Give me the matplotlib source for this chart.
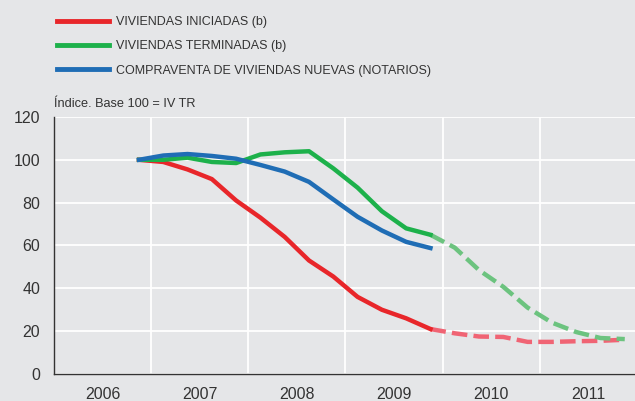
import numpy as np
import matplotlib.pyplot as plt
from matplotlib.lines import Line2D

plt.rcParams['font.family'] = ['Liberation Sans', 'DejaVu Sans']

years = ['2006', '2007', '2008', '2009', '2010', '2011']

# quarterly index values, first point = IV TR 2006
iniciadas = [100, 99, 95.5, 91, 81, 73, 64, 53, 45.5, 36, 30, 26, 21]
iniciadas_prev = [21, 19, 17.5, 17.3, 15, 15, 15.3, 15.5, 16]
terminadas = [100, 100, 101, 99, 98.5, 102.5, 103.5, 104, 96, 87, 76, 68, 65]
terminadas_prev = [65, 59, 48.5, 40.7, 31, 24, 19.6, 16.8, 16.3]
compraventa = [100, 102, 102.7, 101.8, 100.5, 97.6, 94.5, 89.7, 81.5, 73.4, 67, 61.7, 58.8]

bg = '#e5e6e8'
red, red_l = '#e8262a', '#f06474'
green, green_l = '#1db14b', '#6cc37f'
blue = '#1f6db5'
txt = '#333333'

fig = plt.figure(figsize=(6.35, 4.01), dpi=100, facecolor=bg)
ax = fig.add_axes([0.085, 0.0673, 0.918, 0.641], facecolor=bg)

q0 = 3  # IV TR 2006
x_hist = np.arange(q0, q0 + len(iniciadas)) + 0.5
x_prev = np.arange(q0 + len(iniciadas) - 1, q0 + len(iniciadas) - 1 + len(iniciadas_prev)) + 0.5

lw = 3.2
dash = (3.5, 1.4)
ax.plot(x_prev, iniciadas_prev, color=red_l, lw=lw, dashes=dash)
ax.plot(x_prev, terminadas_prev, color=green_l, lw=lw, dashes=dash)
ax.plot(x_hist, iniciadas, color=red, lw=lw)
ax.plot(x_hist, terminadas, color=green, lw=lw)
ax.plot(x_hist, compraventa, color=blue, lw=lw)

ax.set_xlim(0, 24)
ax.set_ylim(0, 120)
ax.set_yticks(range(0, 121, 20))
ax.set_xticks(np.arange(len(years)) * 4 + 2)
ax.set_xticklabels(years)
ax.set_xticks(np.arange(4, 24, 4), minor=True)
ax.grid(True, which='minor', axis='x', color='white', lw=1.3)
ax.grid(True, which='major', axis='y', color='white', lw=1.3)
ax.set_axisbelow(True)
ax.tick_params(which='both', length=0, labelsize=11.5, colors=txt)
ax.tick_params(axis='y', pad=10)
ax.tick_params(axis='x', pad=9)
for s in ['top', 'right']:
    ax.spines[s].set_visible(False)
for s in ['left', 'bottom']:
    ax.spines[s].set_color(txt)
    ax.spines[s].set_linewidth(1.0)

fig.text(0.085, 0.733, 'Índice. Base 100 = IV TR', fontsize=9.2, color=txt, va='baseline')

handles = [Line2D([], [], color=red, lw=3.5),
           Line2D([], [], color=green, lw=3.5),
           Line2D([], [], color=blue, lw=3.5)]
labels = ['VIVIENDAS INICIADAS (b)', 'VIVIENDAS TERMINADAS (b)',
          'COMPRAVENTA DE VIVIENDAS NUEVAS (NOTARIOS)']
fig.legend(handles, labels, loc='upper left', bbox_to_anchor=(0.072, 0.988),
           frameon=False, fontsize=9, handlelength=4.2, labelspacing=0.98,
           handletextpad=0.55, labelcolor=txt)

fig.savefig('out.png', dpi=100, facecolor=bg)
